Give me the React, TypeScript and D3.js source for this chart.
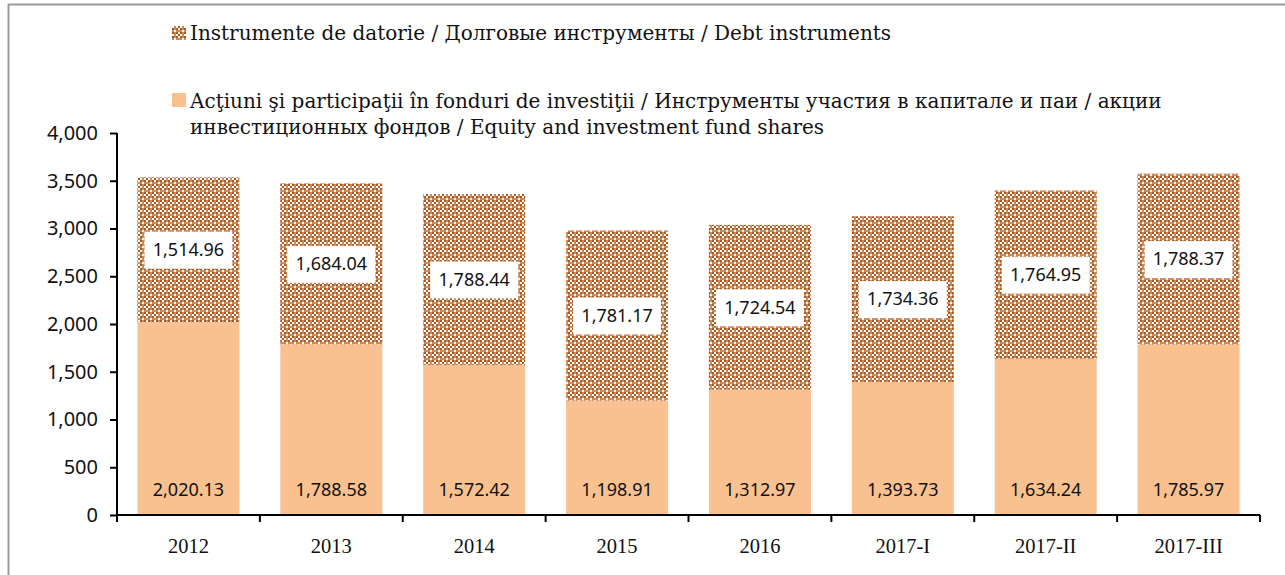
import React, { useEffect, useRef } from 'react';
import * as d3 from 'd3';

const categories = ['2012', '2013', '2014', '2015', '2016', '2017-I', '2017-II', '2017-III'];
const equity = [2020.13, 1788.58, 1572.42, 1198.91, 1312.97, 1393.73, 1634.24, 1785.97];
const debt = [1514.96, 1684.04, 1788.44, 1781.17, 1724.54, 1734.36, 1764.95, 1788.37];
const yTicks = [0, 500, 1000, 1500, 2000, 2500, 3000, 3500, 4000];

const legendDebt = ['Instrumente de datorie / Долговые инструменты / Debt instruments'];
const legendEquity = [
  'Acţiuni şi participaţii în fonduri de investiţii / Инструменты участия в капитале и паи / акции',
  'инвестиционных фондов / Equity and investment fund shares',
];

const W = 1285;
const H = 575;
const serif = '"DejaVu Serif", serif';
const catSerif = '"Liberation Serif", serif';
const sans = '"Noto Sans", sans-serif';

export default function App() {
  const ref = useRef<SVGSVGElement>(null);

  useEffect(() => {
    const svg = d3.select(ref.current);
    svg.selectAll('*').remove();

    const left = 117, right = 1260, top = 133, bottom = 515;

    const x = d3.scaleBand().domain(categories).range([left, right]).paddingInner(0.286).paddingOuter(0.143);
    const y = d3.scaleLinear().domain([0, 4000]).range([bottom, top]);

    const defs = svg.append('defs');
    const pat = defs.append('pattern')
      .attr('id', 'dots')
      .attr('patternUnits', 'userSpaceOnUse')
      .attr('width', 8).attr('height', 8);
    pat.append('rect').attr('width', 8).attr('height', 8).attr('fill', '#e3b794');
    for (let i = 0; i < 3; i++) {
      for (let j = 0; j < 3; j++) {
        pat.append('rect')
          .attr('x', i * 2).attr('y', j * 2)
          .attr('width', 2).attr('height', 2)
          .attr('fill', (i + j) % 2 === 0 ? '#b0561a' : '#ffffff');
      }
    }
    pat.append('rect').attr('x', 6).attr('y', 6).attr('width', 2).attr('height', 2).attr('fill', '#ffffff');
    pat.append('rect').attr('x', 6).attr('y', 0).attr('width', 2).attr('height', 6).attr('fill', '#c98a5c');
    pat.append('rect').attr('x', 0).attr('y', 6).attr('width', 6).attr('height', 2).attr('fill', '#c98a5c');

    // frame
    svg.append('rect')
      .attr('x', 8.5).attr('y', 4.5)
      .attr('width', W + 20).attr('height', H + 20)
      .attr('fill', 'none').attr('stroke', '#999').attr('stroke-width', 2);

    // equity bars
    svg.append('g').selectAll('rect')
      .data(categories)
      .join('rect')
      .attr('x', d => x(d)!)
      .attr('width', x.bandwidth())
      .attr('y', (d, i) => y(equity[i]))
      .attr('height', (d, i) => y(0) - y(equity[i]))
      .attr('fill', '#f9c190');

    // debt bars
    svg.append('g').selectAll('rect')
      .data(categories)
      .join('rect')
      .attr('x', d => x(d)!)
      .attr('width', x.bandwidth())
      .attr('y', (d, i) => y(equity[i] + debt[i]))
      .attr('height', (d, i) => y(equity[i]) - y(equity[i] + debt[i]))
      .attr('fill', 'url(#dots)');

    const fmt = d3.format(',.2f');

    // debt labels with white boxes
    const dl = svg.append('g').selectAll('g')
      .data(categories)
      .join('g')
      .attr('transform', (d, i) => `translate(${x(d)! + x.bandwidth() / 2},${y(equity[i] + debt[i] / 2)})`);
    dl.append('rect')
      .attr('x', -44).attr('y', -18).attr('width', 88).attr('height', 37)
      .attr('fill', '#fff');
    dl.append('text')
      .attr('text-anchor', 'middle').attr('dy', '0.35em')
      .attr('font-family', sans).attr('font-size', 18).attr('fill', '#111')
      .text((d, i) => fmt(debt[i]));

    // equity labels
    svg.append('g').selectAll('text')
      .data(categories)
      .join('text')
      .attr('x', d => x(d)! + x.bandwidth() / 2)
      .attr('y', 490)
      .attr('text-anchor', 'middle').attr('dy', '0.35em')
      .attr('font-family', sans).attr('font-size', 18).attr('fill', '#111')
      .text((d, i) => fmt(equity[i]));

    // y axis
    const ya = svg.append('g').attr('transform', `translate(${left},0)`)
      .call(d3.axisLeft(y).tickValues(yTicks).tickSize(7).tickPadding(12).tickFormat(d3.format(',')));
    ya.select('.domain').attr('stroke', '#000').attr('stroke-width', 2).attr('d', `M0,${top}V${bottom}`);
    ya.selectAll('.tick line').attr('stroke', '#000').attr('stroke-width', 2);
    ya.selectAll('.tick text').attr('font-family', sans).attr('font-size', 20).attr('fill', '#111');

    // x axis
    const xa = svg.append('g').attr('transform', `translate(0,${bottom})`);
    xa.append('line').attr('x1', left).attr('x2', right).attr('stroke', '#000').attr('stroke-width', 2);
    xa.selectAll('line.t')
      .data(d3.range(categories.length + 1))
      .join('line')
      .attr('class', 't')
      .attr('x1', i => left + i * x.step()).attr('x2', i => left + i * x.step())
      .attr('y1', 0).attr('y2', 7)
      .attr('stroke', '#000').attr('stroke-width', 2);
    xa.selectAll('text')
      .data(categories)
      .join('text')
      .attr('x', d => x(d)! + x.bandwidth() / 2)
      .attr('y', 31)
      .attr('text-anchor', 'middle').attr('dy', '0.35em')
      .attr('font-family', catSerif).attr('font-size', 20.5).attr('fill', '#111')
      .text(d => d);

    // legend
    const lg = svg.append('g');
    lg.append('rect').attr('x', 172).attr('y', 26).attr('width', 14).attr('height', 14).attr('fill', 'url(#dots)');
    lg.append('text').attr('x', 190).attr('y', 33).attr('dy', '0.35em')
      .attr('font-family', serif).attr('font-size', 20).attr('fill', '#111')
      .text(legendDebt[0]);
    lg.append('rect').attr('x', 172).attr('y', 93).attr('width', 14).attr('height', 14).attr('fill', '#f9c190');
    legendEquity.forEach((t, i) => {
      lg.append('text').attr('x', 190).attr('y', 101 + i * 26).attr('dy', '0.35em')
        .attr('font-family', serif).attr('font-size', 20).attr('fill', '#111')
        .text(t);
    });
  }, []);

  return (
    <svg ref={ref} width={W} height={H} style={{ position: 'absolute', left: 0, top: 0, background: '#fff' }} />
  );
}
